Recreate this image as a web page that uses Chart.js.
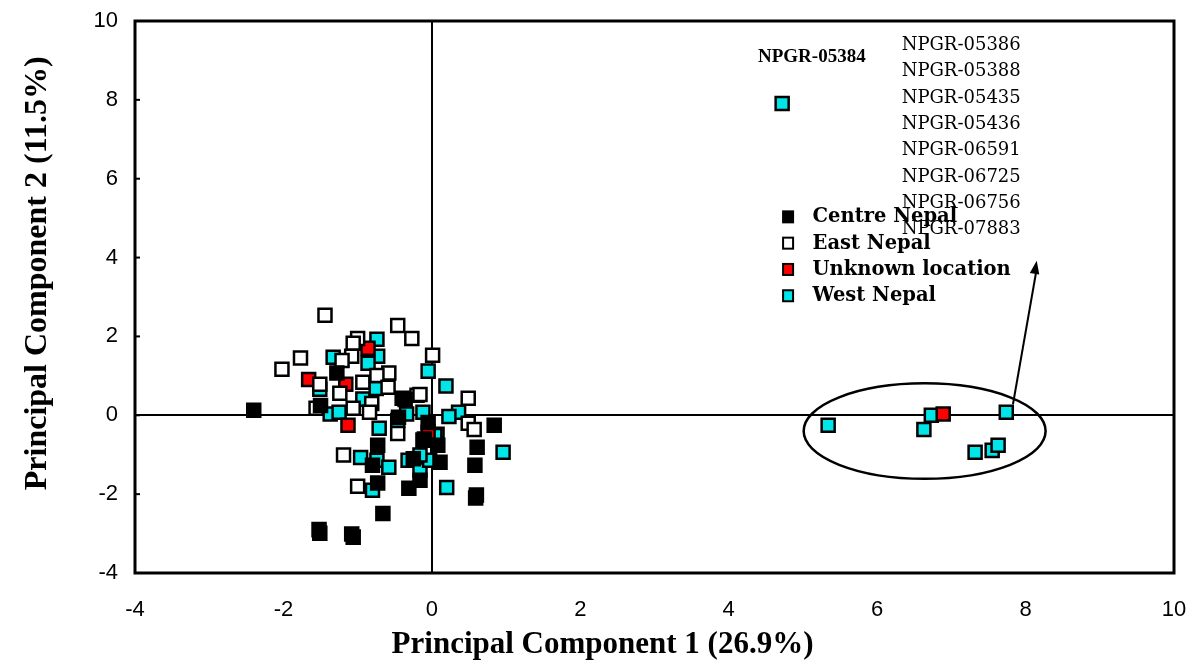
<!DOCTYPE html>
<html>
<head>
<meta charset="utf-8">
<script src="https://cdn.jsdelivr.net/npm/chart.js@4.4.0/dist/chart.umd.min.js"></script>
<style>
  body { margin: 0; background: #fff; }
  #wrap { width: 1199px; height: 666px; }
</style>
</head>
<body>
<div id="wrap"><canvas id="pca"></canvas></div>
<script>
// PC1 / PC2 scores
var centreNepal = [
  [-2.40, 0.13], [-1.28, 1.07], [-1.50, 0.25], [-0.40, 0.43], [-0.36, 0.40],
  [-0.73, -0.76], [-0.80, -1.27], [-0.73, -1.72], [-0.31, -1.85], [-0.66, -2.49],
  [-1.51, -2.99], [-1.52, -2.90], [-1.06, -3.09], [-1.08, -3.01], [-0.05, -0.18],
  [0.08, -0.76], [-0.16, -1.65], [0.61, -0.81], [0.58, -1.27], [0.59, -2.10],
  [0.60, -2.02], [0.84, -0.25], [0.11, -1.19], [-0.45, -0.05], [-0.10, -0.60],
  [-0.25, -1.10]
];
var eastNepal = [
  [-1.44, 2.54], [-0.46, 2.28], [-0.27, 1.95], [-1.00, 1.95], [-1.06, 1.83],
  [-1.77, 1.45], [-1.08, 1.50], [-1.21, 1.39], [-2.02, 1.17], [-0.58, 1.07],
  [-0.74, 1.01], [-1.51, 0.79], [-0.59, 0.71], [-1.24, 0.56], [-1.56, 0.18],
  [-0.81, 0.30], [-0.20, 0.51], [-1.06, 0.18], [-0.84, 0.08], [0.01, 1.52],
  [-0.16, 0.53], [0.49, 0.43], [0.49, -0.20], [0.57, -0.36], [-0.46, -0.46],
  [-1.19, -1.01], [-1.00, -1.80], [-0.93, 0.84]
];
var unknownLocation = [
  [-0.86, 1.70], [-1.66, 0.91], [-1.16, 0.79], [-1.13, -0.25], [-0.05, -0.43],
  [6.89, 0.03]
];
var westNepal = [
  [-0.74, 1.93], [-0.73, 1.50], [-1.33, 1.47], [-0.86, 1.32], [-1.51, 0.66],
  [-0.75, 0.68], [-0.93, 0.41], [-1.37, 0.03], [-1.25, 0.08], [-0.71, -0.33],
  [-0.46, -0.13], [-0.34, 0.03], [-0.05, 1.12], [0.19, 0.74], [-0.12, 0.08],
  [0.36, 0.08], [0.23, -0.03], [0.07, -0.48], [-0.12, -0.63], [-0.96, -1.07],
  [-0.74, -1.14], [-0.58, -1.32], [-0.32, -1.14], [-0.80, -1.90], [-0.16, -1.39],
  [-0.03, -1.14], [0.04, -0.51], [0.96, -0.94], [0.20, -1.83], [-0.16, -1.01],
  [4.72, 7.91], [5.34, -0.25], [6.63, -0.36], [6.73, 0.00], [7.74, 0.08],
  [7.32, -0.94], [7.55, -0.89], [7.63, -0.76]
];
var seriesNames = ['Centre Nepal', 'East Nepal', 'Unknown location', 'West Nepal'];
var seriesFill = ['#000000', '#ffffff', '#ff0000', '#00e5e8'];
var outlierLabel = 'NPGR-05384';
var clusterLabels = ['NPGR-05386', 'NPGR-05388', 'NPGR-05435', 'NPGR-05436',
  'NPGR-06591', 'NPGR-06725', 'NPGR-06756', 'NPGR-07883'];
var xTitle = 'Principal Component 1 (26.9%)';
var yTitle = 'Principal Component 2 (11.5%)';

function toPts(arr) {
  return arr.map(function (p) { return { x: p[0], y: p[1] }; });
}
var allSeries = [centreNepal, eastNepal, unknownLocation, westNepal];

var datasets = allSeries.map(function (s, i) {
  return {
    label: seriesNames[i],
    data: toPts(s),
    pointStyle: 'rect',
    pointRadius: 9.2,
    pointHoverRadius: 9.2,
    backgroundColor: seriesFill[i],
    borderColor: '#000',
    borderWidth: 2.5
  };
});

var extras = {
  id: 'extras',
  beforeDatasetsDraw: function (chart) {
    var ctx = chart.ctx, xs = chart.scales.x, ys = chart.scales.y;
    var a = chart.chartArea;
    ctx.save();
    // inward tick marks
    ctx.strokeStyle = '#000';
    ctx.lineWidth = 2;
    [-2, 0, 2, 4, 6, 8].forEach(function (v) {
      var py = ys.getPixelForValue(v);
      ctx.beginPath(); ctx.moveTo(a.left, py); ctx.lineTo(a.left + 5, py); ctx.stroke();
    });
    // ellipse round the cluster
    var cx = xs.getPixelForValue(6.64), cy = ys.getPixelForValue(-0.40);
    var rx = xs.getPixelForValue(8.27) - cx, ry = cy - ys.getPixelForValue(0.81);
    ctx.lineWidth = 2.5;
    ctx.beginPath();
    ctx.ellipse(cx, cy, rx, ry, 0, 0, Math.PI * 2);
    ctx.stroke();
    ctx.restore();
  },
  afterDatasetsDraw: function (chart) {
    var ctx = chart.ctx, xs = chart.scales.x, ys = chart.scales.y;
    var a = chart.chartArea;
    ctx.save();
    // frame
    ctx.strokeStyle = '#000';
    ctx.lineWidth = 3;
    ctx.strokeRect(a.left, a.top, a.right - a.left, a.bottom - a.top);

    // arrow
    var x0 = xs.getPixelForValue(7.83), y0 = ys.getPixelForValue(0.28);
    var x1 = xs.getPixelForValue(8.15), y1 = ys.getPixelForValue(3.92);
    ctx.lineWidth = 2;
    ctx.beginPath(); ctx.moveTo(x0, y0); ctx.lineTo(x1, y1 + 8); ctx.stroke();
    var ang = Math.atan2(y1 - y0, x1 - x0);
    ctx.beginPath();
    ctx.moveTo(x1, y1);
    ctx.lineTo(x1 - 14 * Math.cos(ang - 0.35), y1 - 14 * Math.sin(ang - 0.35));
    ctx.lineTo(x1 - 14 * Math.cos(ang + 0.35), y1 - 14 * Math.sin(ang + 0.35));
    ctx.closePath(); ctx.fill();

    // labels
    ctx.fillStyle = '#000';
    ctx.textBaseline = 'middle';
    ctx.textAlign = 'center';
    ctx.font = 'bold 19px "Liberation Serif"';
    ctx.fillText(outlierLabel, xs.getPixelForValue(5.12), ys.getPixelForValue(9.08));
    ctx.textAlign = 'left';
    ctx.font = '18px "DejaVu Serif"';
    clusterLabels.forEach(function (t, i) {
      ctx.fillText(t, xs.getPixelForValue(6.33), ys.getPixelForValue(9.38 - i * 0.667));
    });

    // legend
    var lx = xs.getPixelForValue(4.80), tx = xs.getPixelForValue(5.13);
    ctx.font = 'bold 19.5px "DejaVu Serif"';
    seriesNames.forEach(function (n, i) {
      var py = ys.getPixelForValue(5.02 - i * 0.667);
      ctx.fillStyle = seriesFill[i];
      ctx.fillRect(lx - 5, py - 6, 10, 11);
      ctx.strokeStyle = '#000'; ctx.lineWidth = 2;
      ctx.strokeRect(lx - 5, py - 6, 10, 11);
      ctx.fillStyle = '#000';
      ctx.fillText(n, tx, py);
    });

    // axis titles
    ctx.textAlign = 'center';
    ctx.font = 'bold 31px "Liberation Serif"';
    ctx.fillText(xTitle, xs.getPixelForValue(2.30), 645);
    ctx.save();
    ctx.translate(38, ys.getPixelForValue(3.6));
    ctx.rotate(-Math.PI / 2);
    ctx.font = 'bold 32px "Liberation Serif"';
    ctx.fillText(yTitle, 0, 0);
    ctx.restore();
    ctx.restore();
  }
};

function zeroLine(c) { return c.tick && c.tick.value === 0 ? '#000' : 'rgba(0,0,0,0)'; }

new Chart(document.getElementById('pca'), {
  type: 'scatter',
  data: { datasets: datasets },
  options: {
    responsive: true,
    maintainAspectRatio: false,
    animation: false,
    layout: { padding: { top: 21, right: 25, left: 0, bottom: 0 } },
    plugins: { legend: { display: false }, tooltip: { enabled: false } },
    scales: {
      x: {
        min: -4, max: 10,
        ticks: { stepSize: 2, color: '#000', padding: 24, font: { family: 'Liberation Sans', size: 22 } },
        grid: { color: zeroLine, lineWidth: 2, drawTicks: false },
        border: { display: false },
        afterFit: function (s) { s.height = 93; s.paddingLeft = 0; s.paddingRight = 0; }
      },
      y: {
        min: -4, max: 10,
        ticks: { stepSize: 2, color: '#000', padding: 17, font: { family: 'Liberation Sans', size: 22 } },
        grid: { color: zeroLine, lineWidth: 2, drawTicks: false },
        border: { display: false },
        afterFit: function (s) { s.width = 135; s.paddingTop = 0; s.paddingBottom = 0; }
      }
    }
  },
  plugins: [extras]
});
</script>
</body>
</html>
